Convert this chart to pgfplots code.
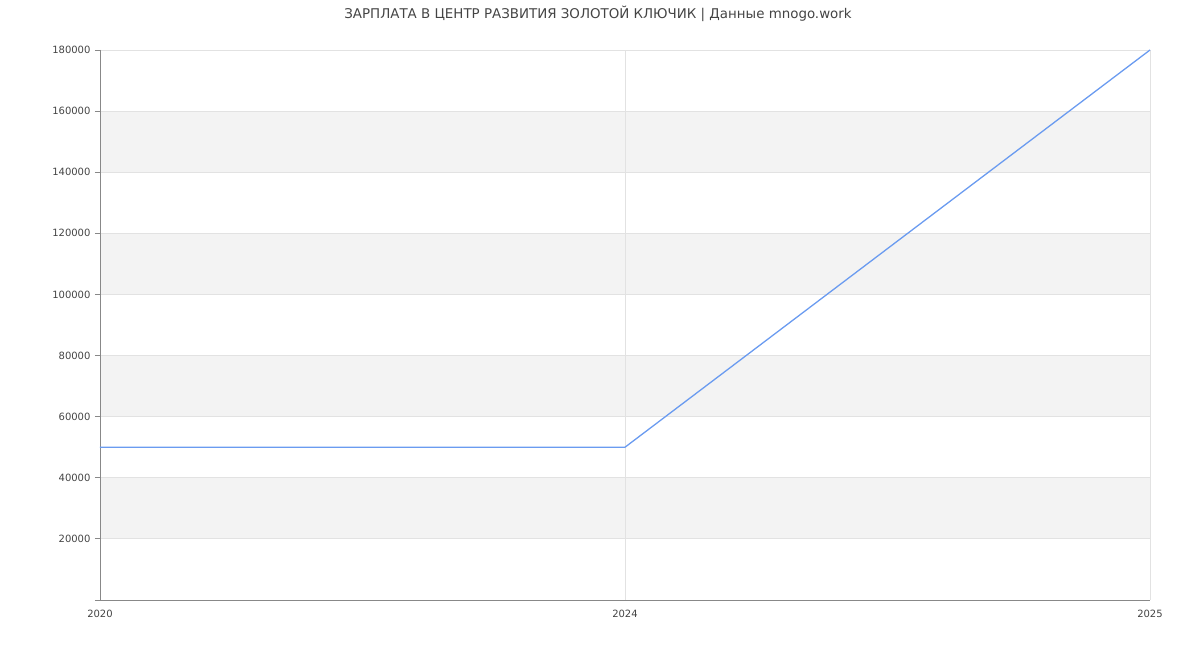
\documentclass[border=0pt]{standalone}
\usepackage{pgfplots}
\pgfplotsset{compat=1.18}
\usepackage{fontspec}
\setmainfont{DejaVu Sans}
\definecolor{txt}{HTML}{444444}
\definecolor{axl}{HTML}{888888}
\definecolor{grd}{HTML}{E2E2E2}
\definecolor{band}{HTML}{F3F3F3}
\definecolor{ln}{HTML}{6A9BF0}
\begin{document}
\begin{tikzpicture}
\useasboundingbox (-100pt,-50pt) rectangle (1100pt,600pt);
\begin{axis}[
  at={(0,0)}, anchor=south west,
  scale only axis, width=1050pt, height=550pt,
  xmin=0, xmax=2, ymin=0, ymax=180000,
  scaled y ticks=false,
  xtick={0,1,2}, xticklabels={2020,2024,2025},
  ytick={0,20000,40000,60000,80000,100000,120000,140000,160000,180000},
  yticklabels={,20000,40000,60000,80000,100000,120000,140000,160000,180000},
  axis lines=left, axis line style={draw=none},
  x tick style={draw=none, opacity=0}, y tick style={axl, line width=0.8pt},
  tick align=outside, major tick length=5pt,
  ticklabel style={font=\fontsize{10}{12}\selectfont, text=txt},
  /pgf/number format/assume math mode=true,
  xticklabel style={yshift=-2pt},
  yticklabel style={xshift=-1pt},
  clip=false,
]
\fill[band] (axis cs:0,20000) rectangle (axis cs:2,40000);
\fill[band] (axis cs:0,60000) rectangle (axis cs:2,80000);
\fill[band] (axis cs:0,100000) rectangle (axis cs:2,120000);
\fill[band] (axis cs:0,140000) rectangle (axis cs:2,160000);
\foreach \yy in {20000,40000,60000,80000,100000,120000,140000,160000,180000}{
  \edef\tmp{\noexpand\draw[grd, line width=0.8pt] (axis cs:0,\yy) -- (axis cs:2,\yy);}\tmp
}
\draw[grd, line width=0.8pt] (axis cs:1,0) -- (axis cs:1,180000);
\draw[grd, line width=0.8pt] (axis cs:2,0) -- (axis cs:2,180000);
\draw[axl, line width=0.8pt] (axis cs:0,180000) -- (axis cs:0,0) -- (axis cs:2,0);
\addplot[ln, line width=1.3pt, mark=none] coordinates {(0,50000) (1,50000) (2,180000)};
\end{axis}
\node[text=txt, font=\fontsize{13.4}{16}\selectfont] at (498pt,586pt) {ЗАРПЛАТА В ЦЕНТР РАЗВИТИЯ ЗОЛОТОЙ КЛЮЧИК | Данные mnogo.work};
\end{tikzpicture}
\end{document}
